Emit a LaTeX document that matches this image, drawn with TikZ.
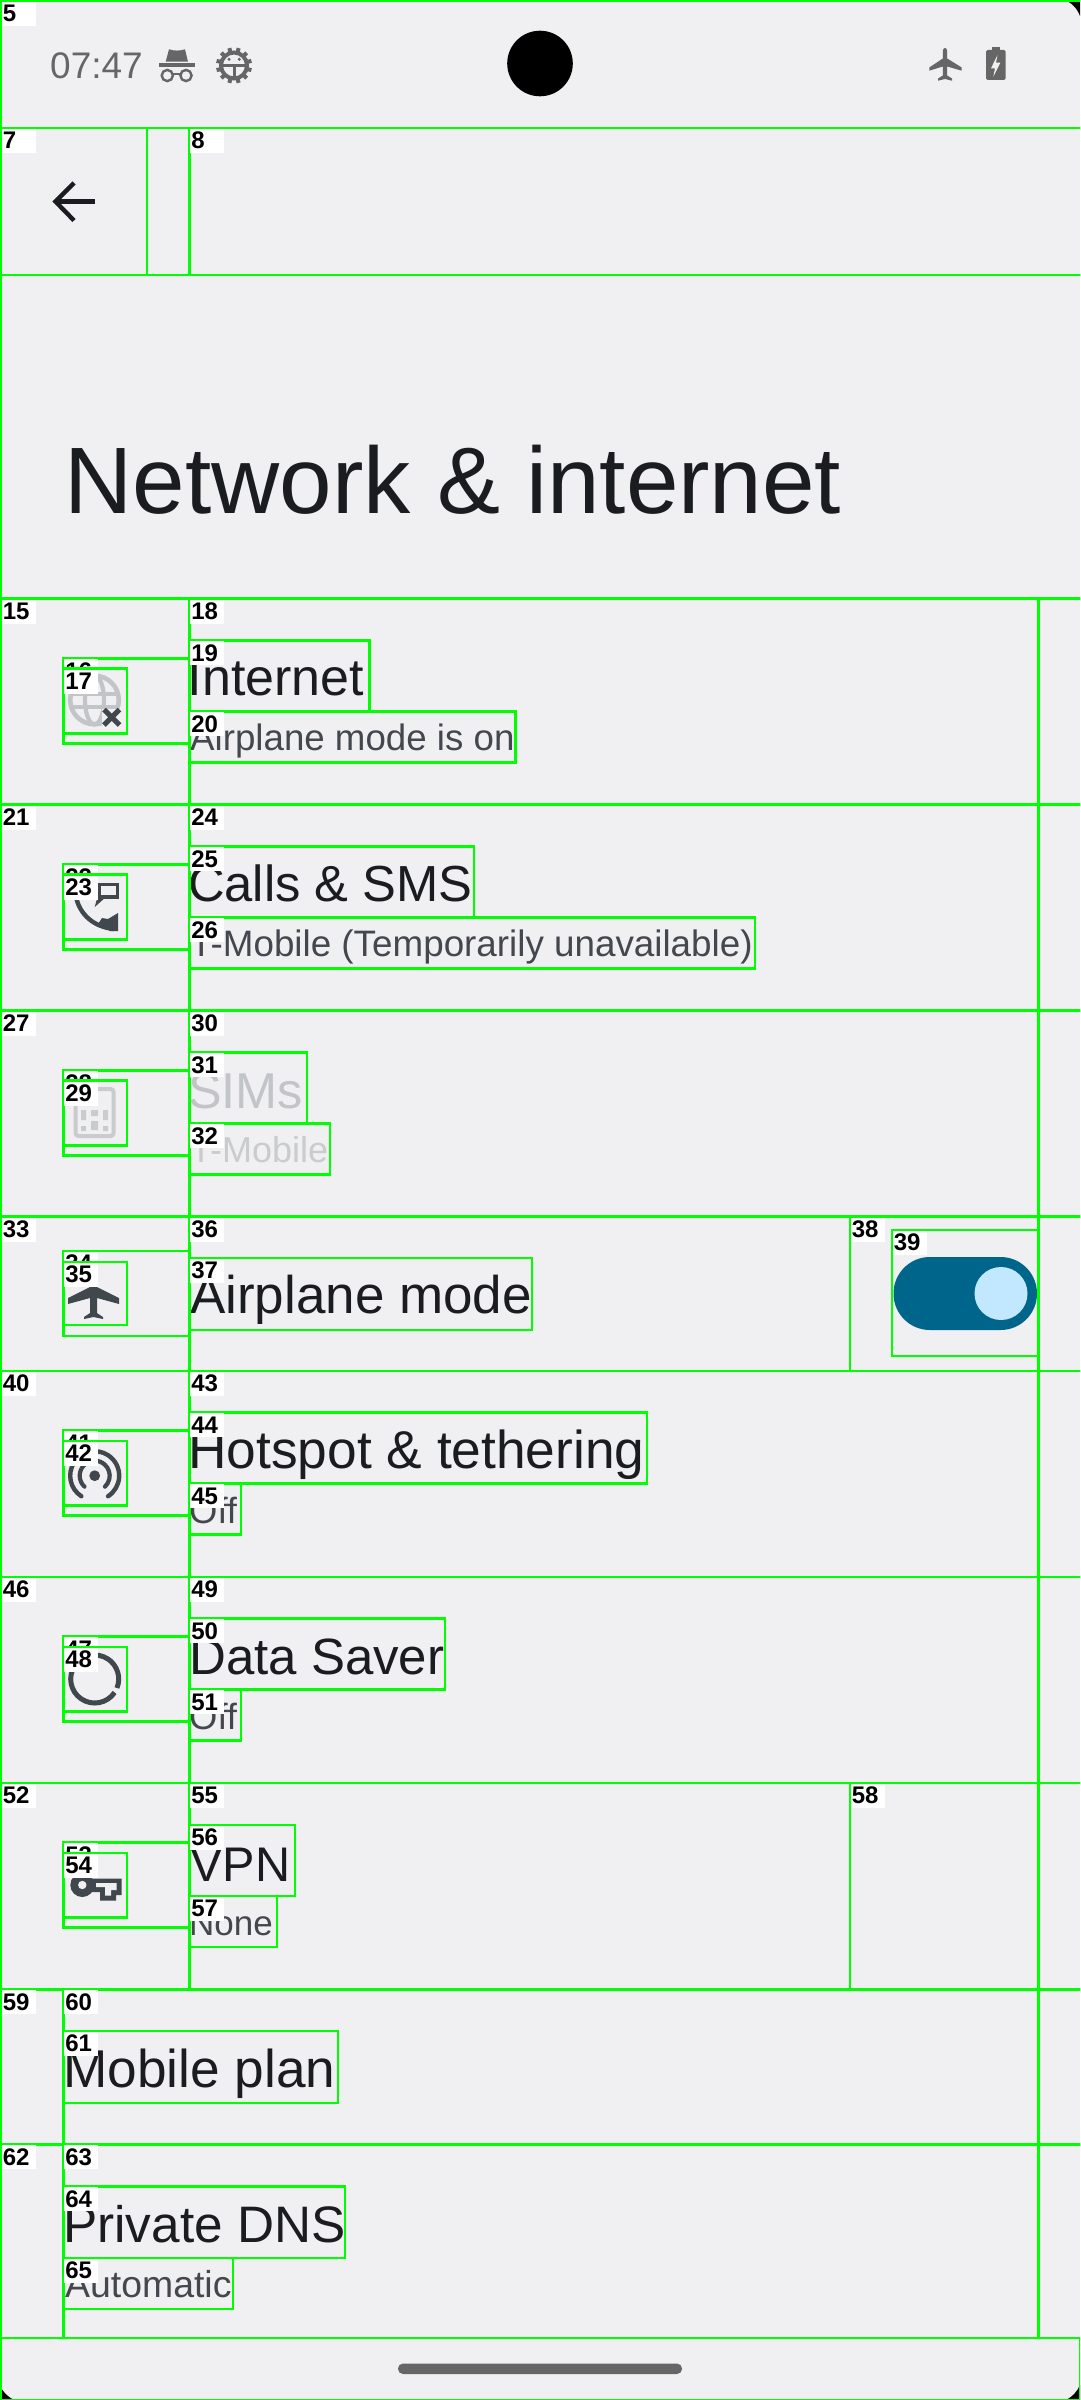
\documentclass[tikz,border=0pt]{standalone}
\usepackage{fontspec}
\setmainfont{Liberation Sans}
\definecolor{bgc}{HTML}{F0F0F3}
\definecolor{grn}{HTML}{00FF00}
\definecolor{ttlc}{HTML}{1B1C1F}
\definecolor{subc}{HTML}{44484E}
\definecolor{offc}{HTML}{C2C4C7}
\definecolor{dimc}{HTML}{C9CBCD}
\definecolor{icoc}{HTML}{41484D}
\definecolor{stac}{HTML}{666666}
\definecolor{swc}{HTML}{00658B}
\definecolor{knobc}{HTML}{C2E8FF}
\tikzset{
  gbox/.style={draw=grn,line width=2.7pt},
  lab/.style={anchor=north west,fill=white,inner xsep=1pt,inner ysep=0pt,text width=32pt,
    text height=20pt,text depth=4pt,text=black,font=\fontsize{24}{24}\selectfont\bfseries,align=left},
  txt/.style={anchor=base west,inner sep=0pt},
}
\newcommand\bxn[4]{\draw[gbox] (#1,#2) rectangle (#3,#4);}
\newcommand\bx[5]{\draw[gbox] (#1,#2) rectangle (#3,#4);
  \node[lab] (n#5) at ({#1+0.6},{#2+0.6}) {#5};}
\newcommand\txtn[6]{\node[txt,text=#5,font=\fontsize{#4}{#4}\selectfont] (#1) at (#2,#3) {#6};}
% left part of a row: row top, row bottom, three labels
\newcommand\rowa[5]{\bxn{1}{#1}{1082}{#2}
  \bx{1}{#1}{189.5}{#2}{#3}
  \bx{63.5}{#1+59.5}{189.5}{#1+144.5}{#4}
  \bx{63.5}{#1+70}{127}{#1+134.5}{#5}}
% right part of a row: row top, row bottom, three labels, title right, sub right
\newcommand\rowc[7]{\bx{189.5}{#1}{1038.5}{#2}{#3}
  \bx{189.5}{#1+41.5}{#6}{#1+112.5}{#4}
  \bx{189.5}{#1+112.5}{#7}{#1+163.5}{#5}}
\begin{document}
\begin{tikzpicture}[x=1pt,y=-1pt]
\clip (0,0) rectangle (1080,2400);
\fill[bgc] (0,0) rectangle (1080,2400);
% screen corners
\fill[black] (1064,0) .. controls (1071,2) and (1077,8) .. (1080,16) -- (1080,0) -- cycle;
\fill[black] (1066,2400) .. controls (1072,2397) and (1077,2392) .. (1080,2385) -- (1080,2400) -- cycle;
\fill[black] (0,2386) .. controls (3,2392) and (8,2397) .. (14,2400) -- (0,2400) -- cycle;
% camera
\fill[black] (540,63.5) circle (32.8);
% status bar
\txtn{clock}{50}{78.5}{37}{stac}{07:47}
\fill[stac] (169,49.3) .. controls (174,51) and (180,51) .. (185,49.3) -- (188,61.7) -- (165.7,61.7) -- cycle;
\fill[stac] (159,63.3) rectangle (195,66.7);
\draw[stac,line width=2.4pt] (167.3,75.5) circle (5.6) (186,75.5) circle (5.6);
\draw[stac,line width=2pt] (172.5,74) -- (181,74);
\foreach \a in {15,45,...,345} \draw[stac,line width=4pt] (234,65.5) ++(\a:12) -- ++(\a:6);
\draw[stac,line width=4pt] (234,65.5) circle (13);
\draw[stac,line width=3pt] (222,66) -- (246,66) (234,66) -- (234,79);
\fill[stac] (229,59.3) circle (1.7) (239.3,59.3) circle (1.7);
\fill[stac] (942.8,51) .. controls (943,47) and (947,47) .. (947.2,51) -- (947.2,58.5) -- (961.7,67.5) -- (961.7,70.7) -- (947.2,66.5) -- (947.2,75.5) -- (952,78.5) -- (952,80.7) -- (945,79) -- (938,80.7) -- (938,78.5) -- (942.8,75.5) -- (942.8,66.5) -- (929.3,70.7) -- (929.3,67.5) -- (942.8,58.5) -- cycle;
\fill[stac,rounded corners=1.5pt] (986,50) rectangle (1005.7,80);
\fill[stac] (992,46.7) rectangle (1000,51);
\fill[bgc] (997.5,55) -- (991,68.3) -- (995,68.3) -- (993.3,76.7) -- (1000.3,62.7) -- (996,62.7) -- cycle;
% back arrow
\draw[ttlc,line width=4.6pt] (95,201.5) -- (57,201.5);
\draw[ttlc,line width=4.4pt,line join=miter] (74,183) -- (55.5,201.5) -- (74,220.5);
% big title
\txtn{bigt}{64.6}{513}{94.4}{ttlc}{Network \& internet}
% row texts
\txtn{t19}{187.5}{695}{52}{ttlc}{Internet}
\txtn{t20}{190}{750}{36.7}{subc}{Airplane mode is on}
\txtn{t25}{188}{901}{50.7}{ttlc}{Calls \& SMS}
\txtn{t26}{190}{956}{36.8}{subc}{T-Mobile (Temporarily unavailable)}
\txtn{t31}{188}{1108}{50.4}{offc}{SIMs}
\txtn{t32}{190}{1162}{36}{dimc}{T-Mobile}
\txtn{t37}{190}{1313}{53}{ttlc}{Airplane mode}
\txtn{t44}{188}{1468}{53.3}{ttlc}{Hotspot \& tethering}
\txtn{t45}{189}{1523}{36.4}{subc}{Off}
\txtn{t50}{189}{1674}{51}{ttlc}{Data Saver}
\txtn{t51}{189}{1729}{36.4}{subc}{Off}
\txtn{t56}{190}{1881}{48.6}{ttlc}{VPN}
\txtn{t57}{189}{1935.5}{35}{subc}{None}
\txtn{t61}{63}{2087}{53.2}{ttlc}{Mobile plan}
\txtn{t64}{63}{2242}{51.3}{ttlc}{Private DNS}
\txtn{t65}{65}{2297}{37.4}{subc}{Automatic}
% globe icon
\draw[offc,line width=4.6pt] (94.5,700) circle (24.3);
\draw[offc,line width=4.2pt] (94.5,700) ellipse (9.5 and 24.3);
\draw[offc,line width=4.2pt] (70,694) -- (119,694) (70,707) -- (119,707);
\fill[bgc] (102,709) rectangle (124,728);
\draw[icoc,line width=5pt] (104,709.5) -- (119.5,725) (119.5,709.5) -- (104,725);
% phone icon
\draw[icoc,line width=4.4pt] (76,897) .. controls (80,915) and (94,927) .. (114,929);
\fill[icoc] (118,913) -- (118,931) -- (110,931) -- (98,924) -- (102,918) -- (108,919) -- cycle;
\draw[icoc,line width=3.5pt] (99,884.5) rectangle (117.5,897);
\fill[icoc] (97.5,897) -- (94.7,907) -- (106,897) -- cycle;
% sim icon
\draw[dimc,line width=4pt,rounded corners=3pt] (75.5,1089) rectangle (113.5,1136);
\fill[dimc] (81,1110) rectangle (86,1120) (91,1110) rectangle (98,1116) (103,1110) rectangle (108,1120)
  (81,1126) rectangle (86,1131) (91,1121) rectangle (98,1130) (103,1126) rectangle (108,1131);
% airplane icon
\fill[icoc] (90,1270) -- (97,1270) -- (97,1287) -- (119,1298) -- (119,1304) -- (97,1298) -- (97,1313) -- (103,1317) -- (103,1319) -- (93.5,1317) -- (84,1319) -- (84,1317) -- (90,1313) -- (90,1298) -- (68,1304) -- (68,1298) -- (90,1287) -- cycle;
% switch
\fill[swc,rounded corners=36.4pt] (893.5,1257) rectangle (1037,1330);
\fill[knobc] (1001,1293.5) circle (26.5);
% hotspot icon
\fill[icoc] (94.7,1475.7) circle (5.4);
\draw[icoc,line width=4.2pt,line cap=round] (94.7,1475.7) ++(133:15) arc[start angle=133,delta angle=274,radius=15];
\draw[icoc,line width=4.4pt,line cap=round] (94.7,1475.7) ++(123:24.5) arc[start angle=123,delta angle=294,radius=24.5];
% data saver icon
\draw[icoc,line width=5pt] (94.7,1679) ++(34:24) arc[start angle=34,delta angle=348,radius=24];
% key icon
\fill[icoc] (82.3,1885) circle (12);
\fill[icoc] (88,1878.5) -- (121.7,1878.5) -- (121.7,1895) -- (116,1895) -- (116,1900.5) -- (100,1900.5) -- (100,1892) -- (88,1892) -- cycle;
\fill[bgc] (96,1883) -- (116.5,1883) -- (116.5,1890) -- (111,1890) -- (111,1895.5) -- (105,1895.5) -- (105,1887) -- (96,1887) -- cycle;
\fill[bgc] (82.3,1885) circle (4.2);
% home indicator
\fill[stac,rounded corners=5pt] (398,2363.5) rectangle (682,2374);
% element boxes
\draw[grn,line width=2pt] (1,0) -- (1,2400) (0,2400) -- (1080,2400) (1080,2338) -- (1080,2400);
\bx{1}{1}{1082}{128}{5}
\bxn{1}{128}{1082}{275}
\bx{1}{128}{147}{275}{7}
\bx{189.5}{128}{1082}{275}{8}
\bxn{1}{275}{1082}{598.7}
\rowa{598.7}{804.7}{15}{16}{17}
\rowc{598.7}{804.7}{18}{19}{20}{369.5}{515.5}
\rowa{804.7}{1010.7}{21}{22}{23}
\rowc{804.7}{1010.7}{24}{25}{26}{474}{755}
\rowa{1010.7}{1216.7}{27}{28}{29}
\rowc{1010.7}{1216.7}{30}{31}{32}{307}{330}
% airplane row
\bxn{1}{1216.7}{1082}{1371}
\bx{1}{1216.7}{189.5}{1371}{33}
\bx{63.5}{1251}{189.5}{1336}{34}
\bx{63.5}{1262}{127}{1325}{35}
\bx{189.5}{1216.7}{850}{1371}{36}
\bx{189.5}{1258}{532}{1330}{37}
\bx{850}{1216.7}{1038.5}{1371}{38}
\bx{892}{1230}{1038.5}{1356}{39}
\rowa{1371}{1577}{40}{41}{42}
\rowc{1371}{1577}{43}{44}{45}{647}{241}
\rowa{1577}{1783}{46}{47}{48}
\rowc{1577}{1783}{49}{50}{51}{445}{241}
% vpn row
\rowa{1783}{1989.5}{52}{53}{54}
\bx{189.5}{1783}{850}{1989.5}{55}
\bx{189.5}{1825}{295}{1896}{56}
\bx{189.5}{1896}{277}{1947}{57}
\bx{850}{1783}{1038.5}{1989.5}{58}
% last rows
\bxn{1}{1989.5}{1082}{2144.5}
\bx{1}{1989.5}{63.5}{2144.5}{59}
\bx{63.5}{1989.5}{1038.5}{2144.5}{60}
\bx{63.5}{2031}{338}{2103}{61}
\bxn{1}{2144.5}{1082}{2338}
\bx{1}{2144.5}{63.5}{2338}{62}
\bx{63.5}{2144.5}{1038.5}{2338}{63}
\bx{63.5}{2186.5}{345}{2258}{64}
\bx{63.5}{2258}{233}{2309}{65}
\end{tikzpicture}
\end{document}
